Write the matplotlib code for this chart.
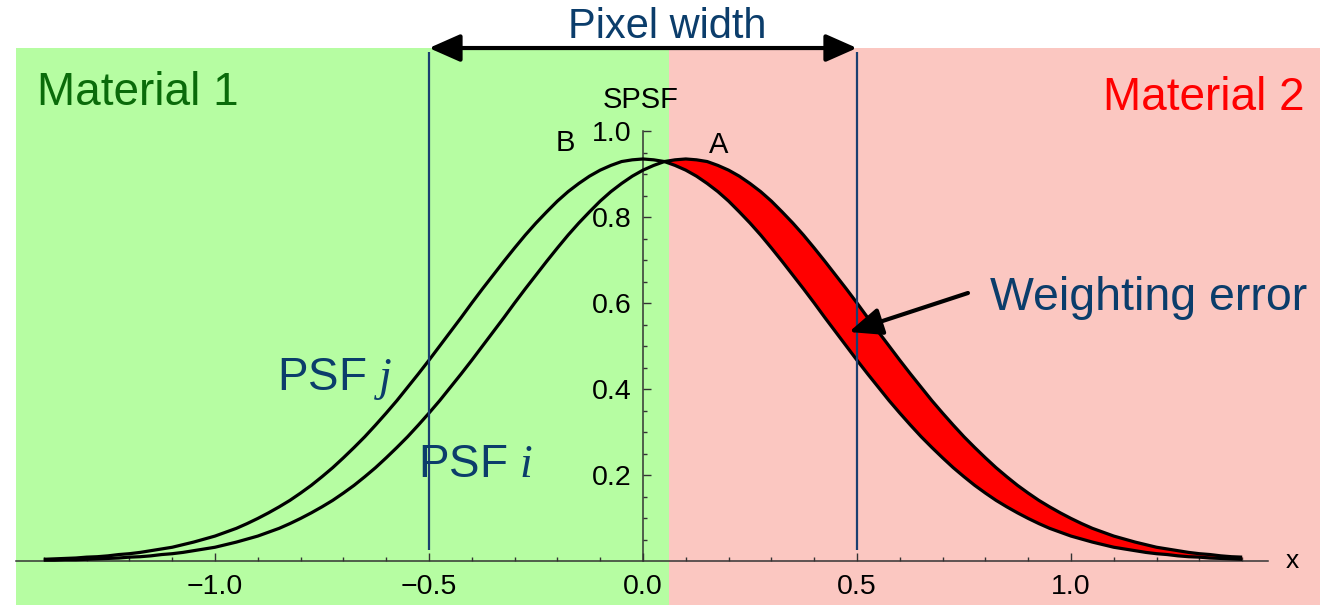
"""Two shifted PSF curves over a two-material pixel boundary."""

import matplotlib
matplotlib.use("Agg")
import matplotlib.pyplot as plt
import numpy as np
from matplotlib.patches import Rectangle
from matplotlib.ticker import FixedLocator, FixedFormatter

# Sample positions along x
x = [-1.400, -1.375, -1.350, -1.325, -1.300, -1.275, -1.250, -1.225, -1.200, -1.175,
     -1.150, -1.125, -1.100, -1.075, -1.050, -1.025, -1.000, -0.975, -0.950, -0.925,
     -0.900, -0.875, -0.850, -0.825, -0.800, -0.775, -0.750, -0.725, -0.700, -0.675,
     -0.650, -0.625, -0.600, -0.575, -0.550, -0.525, -0.500, -0.475, -0.450, -0.425,
     -0.400, -0.375, -0.350, -0.325, -0.300, -0.275, -0.250, -0.225, -0.200, -0.175,
     -0.150, -0.125, -0.100, -0.075, -0.050, -0.025, 0.000, 0.025, 0.050, 0.075,
     0.100, 0.125, 0.150, 0.175, 0.200, 0.225, 0.250, 0.275, 0.300, 0.325,
     0.350, 0.375, 0.400, 0.425, 0.450, 0.475, 0.500, 0.525, 0.550, 0.575,
     0.600, 0.625, 0.650, 0.675, 0.700, 0.725, 0.750, 0.775, 0.800, 0.825,
     0.850, 0.875, 0.900, 0.925, 0.950, 0.975, 1.000, 1.025, 1.050, 1.075,
     1.100, 1.125, 1.150, 1.175, 1.200, 1.225, 1.250, 1.275, 1.300, 1.325,
     1.350, 1.375, 1.400]

# PSF j (curve B), centred on 0
psf_j = [0.004, 0.005, 0.006, 0.007, 0.009, 0.010, 0.012, 0.015, 0.017, 0.020,
         0.024, 0.028, 0.032, 0.038, 0.044, 0.051, 0.058, 0.067, 0.076, 0.087,
         0.099, 0.112, 0.126, 0.141, 0.158, 0.176, 0.196, 0.217, 0.240, 0.264,
         0.289, 0.316, 0.344, 0.373, 0.404, 0.435, 0.467, 0.500, 0.533, 0.566,
         0.600, 0.633, 0.665, 0.697, 0.728, 0.758, 0.786, 0.812, 0.837, 0.859,
         0.878, 0.895, 0.909, 0.920, 0.929, 0.933, 0.935, 0.933, 0.929, 0.920,
         0.909, 0.895, 0.878, 0.859, 0.837, 0.812, 0.786, 0.758, 0.728, 0.697,
         0.665, 0.633, 0.600, 0.566, 0.533, 0.500, 0.467, 0.435, 0.404, 0.373,
         0.344, 0.316, 0.289, 0.264, 0.240, 0.217, 0.196, 0.176, 0.158, 0.141,
         0.126, 0.112, 0.099, 0.087, 0.076, 0.067, 0.058, 0.051, 0.044, 0.038,
         0.032, 0.028, 0.024, 0.020, 0.017, 0.015, 0.012, 0.010, 0.009, 0.007,
         0.006, 0.005, 0.004]

# PSF i (curve A), shifted to the right
psf_i = [0.002, 0.002, 0.003, 0.003, 0.004, 0.005, 0.006, 0.007, 0.009, 0.010,
         0.012, 0.015, 0.017, 0.020, 0.024, 0.028, 0.032, 0.038, 0.044, 0.051,
         0.058, 0.067, 0.076, 0.087, 0.099, 0.112, 0.126, 0.141, 0.158, 0.176,
         0.196, 0.217, 0.240, 0.264, 0.289, 0.316, 0.344, 0.373, 0.404, 0.435,
         0.467, 0.500, 0.533, 0.566, 0.600, 0.633, 0.665, 0.697, 0.728, 0.758,
         0.786, 0.812, 0.837, 0.859, 0.878, 0.895, 0.909, 0.920, 0.929, 0.933,
         0.935, 0.933, 0.929, 0.920, 0.909, 0.895, 0.878, 0.859, 0.837, 0.812,
         0.786, 0.758, 0.728, 0.697, 0.665, 0.633, 0.600, 0.566, 0.533, 0.500,
         0.467, 0.435, 0.404, 0.373, 0.344, 0.316, 0.289, 0.264, 0.240, 0.217,
         0.196, 0.176, 0.158, 0.141, 0.126, 0.112, 0.099, 0.087, 0.076, 0.067,
         0.058, 0.051, 0.044, 0.038, 0.032, 0.028, 0.024, 0.020, 0.017, 0.015,
         0.012, 0.010, 0.009]

x_tick_values = [-1.0, -0.5, 0.0, 0.5, 1.0]
x_tick_labels = ["\u22121.0", "\u22120.5", "0.0", "0.5", "1.0"]
y_tick_values = [0.2, 0.4, 0.6, 0.8, 1.0]
y_tick_labels = ["0.2", "0.4", "0.6", "0.8", "1.0"]

pixel_edges = [-0.5, 0.5]
material_boundary = 0.0607

# Colours
GREEN_BG = "#b6fda2"
RED_BG = "#fbc7c1"
NAVY = "#0b3d6b"
LINE_BLUE = "#1a3f70"

plt.rcParams["font.family"] = ["Liberation Sans", "DejaVu Sans"]
plt.rcParams["mathtext.fontset"] = "custom"
plt.rcParams["mathtext.rm"] = "Liberation Sans"
plt.rcParams["mathtext.it"] = "Liberation Serif:italic"

fig = plt.figure(figsize=(13.2, 6.05), dpi=100)
ax = fig.add_axes([0, 0, 1, 1])
ax.set_xlim(-1.5023, 1.5818)
ax.set_ylim(-0.1023, 1.3047)
ax.patch.set_visible(False)

# Material backgrounds
top = 1.193
bottom = -0.1023
ax.add_patch(Rectangle((-1.465, bottom), material_boundary + 1.465, top - bottom,
                       facecolor=GREEN_BG, edgecolor="none", zorder=0))
ax.add_patch(Rectangle((material_boundary, bottom), 1.5818 - material_boundary,
                       top - bottom, facecolor=RED_BG, edgecolor="none", zorder=0))

# Weighting error band
xa = np.array(x)
ja = np.array(psf_j)
ia = np.array(psf_i)
ax.fill_between(xa, ja, ia, where=ia >= ja, interpolate=True,
                facecolor="#ff0000", edgecolor="none", zorder=2.8)
ax.plot(xa, ja, color="black", lw=2.3, zorder=3, solid_capstyle="butt")
ax.plot(xa, ia, color="black", lw=2.3, zorder=3, solid_capstyle="butt")

# Pixel edges
ax.vlines(pixel_edges, 0.026, 1.184, color=LINE_BLUE, lw=1.6, zorder=3.5)

# Axes through the origin
for side in ["top", "right"]:
    ax.spines[side].set_visible(False)
ax.spines["bottom"].set_position(("data", 0))
ax.spines["left"].set_position(("data", 0))
ax.spines["bottom"].set_bounds(-1.465, 1.46)
ax.spines["left"].set_bounds(0, 1.0)
for side in ["bottom", "left"]:
    ax.spines[side].set_color("#333333")
    ax.spines[side].set_linewidth(1.1)
    ax.spines[side].set_zorder(2.6)

ax.xaxis.set_major_locator(FixedLocator(x_tick_values))
ax.xaxis.set_major_formatter(FixedFormatter(x_tick_labels))
ax.xaxis.set_minor_locator(FixedLocator(np.round(np.arange(-1.4, 1.41, 0.1), 2)))
ax.yaxis.set_major_locator(FixedLocator(y_tick_values))
ax.yaxis.set_major_formatter(FixedFormatter(y_tick_labels))
ax.yaxis.set_minor_locator(FixedLocator(np.round(np.arange(0.05, 1.0, 0.05), 2)))
ax.tick_params(which="both", direction="in", color="#333333", width=1.0,
               labelsize=20.5, labelcolor="black")
ax.tick_params(which="major", length=5.5)
ax.tick_params(which="minor", length=3)
ax.tick_params(axis="x", which="major", pad=9)
ax.tick_params(axis="y", which="major", pad=8)

ax.text(1.516, 0, "x", fontsize=19, ha="center", va="center")
ax.text(-0.005, 1.073, "SPSF", fontsize=21, ha="center", va="center")
ax.text(-0.181, 0.972, "B", fontsize=21, ha="center", va="center")
ax.text(0.176, 0.968, "A", fontsize=21, ha="center", va="center")

# Labels
ax.text(-1.416, 1.0605, "Material 1", fontsize=33, color="#0a6b0a",
        ha="left", va="baseline")
ax.text(1.5467, 1.0488, "Material 2", fontsize=33, color="#ff0000",
        ha="right", va="baseline")
ax.text(0.056, 1.242, "Pixel width", fontsize=30, color=NAVY,
        ha="center", va="center")
ax.text(0.8107, 0.5837, "Weighting error", fontsize=33.5, color=NAVY,
        ha="left", va="baseline")
ax.text(-0.855, 0.3977, "PSF $j$", fontsize=33, color=NAVY,
        ha="left", va="baseline", zorder=4)
ax.text(-0.5257, 0.1953, "PSF $i$", fontsize=33, color=NAVY,
        ha="left", va="baseline", zorder=4)

# Arrows
ax.annotate("", xy=(pixel_edges[0], 1.193), xytext=(pixel_edges[1], 1.193),
            arrowprops=dict(arrowstyle="<|-|>, head_length=0.95, head_width=0.42",
                            color="black", lw=3, shrinkA=0, shrinkB=0,
                            mutation_scale=20), zorder=5)
ax.annotate("", xy=(0.4813, 0.5326), xytext=(0.7593, 0.6233),
            arrowprops=dict(arrowstyle="-|>, head_length=1.0, head_width=0.42",
                            color="black", lw=3, shrinkA=0, shrinkB=0,
                            mutation_scale=20), zorder=5)

fig.savefig("out.png", dpi=100, facecolor="white")
